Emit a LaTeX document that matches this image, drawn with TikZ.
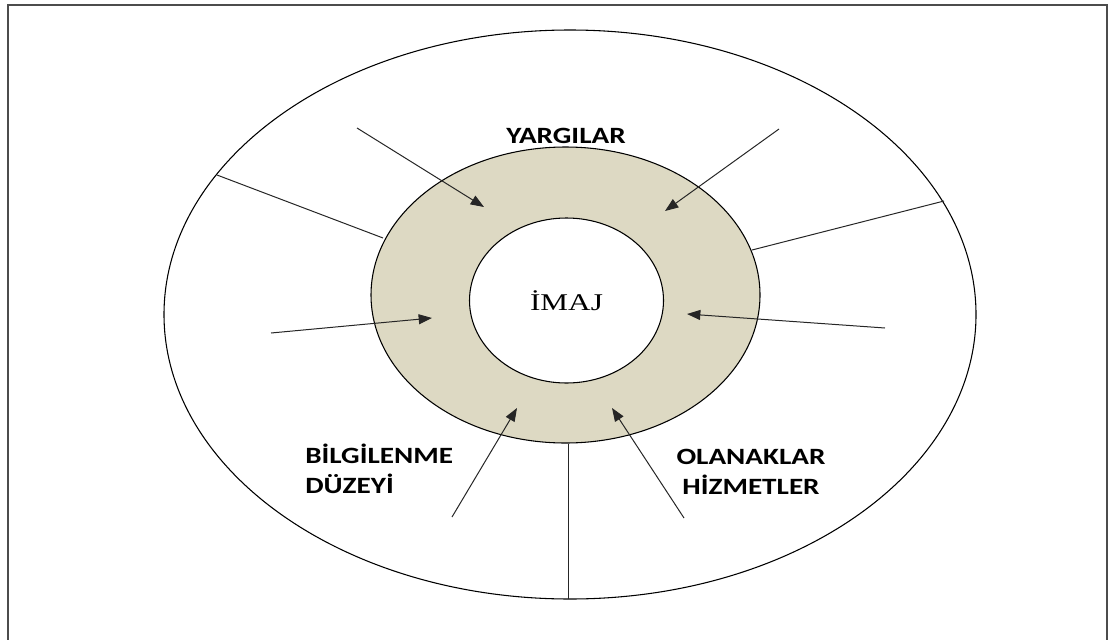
\documentclass[tikz,border=0pt]{standalone}
\usepackage{fontspec}
\usepackage{graphicx}
\setmainfont{Liberation Serif}
\newfontfamily\lblfont{Carlito}
\usetikzlibrary{arrows.meta,shapes.geometric}
\definecolor{ringfill}{HTML}{DDD9C3}
\newcommand\hstretch[1]{\scalebox{1.25}[1]{#1}}
\begin{document}
\begin{tikzpicture}[x=0.75pt,y=-0.75pt,
  oval/.style={draw=black, line width=0.8pt, ellipse, inner sep=0pt},
  divider/.style={draw=black!85, line width=0.75pt},
  inarrow/.style={draw=black!85, line width=0.75pt, -{Triangle[length=10pt,width=7.5pt]}},
  lbl/.style={font={\lblfont\bfseries\fontsize{17.5}{22.5}\selectfont}, inner sep=0pt},
  frameline/.style={draw=black!70, line width=1.5pt}]
\useasboundingbox (0,0) rectangle (1109,639);
% frame
\coordinate (fbl) at (8,641);
\coordinate (ftl) at (8,5);
\coordinate (ftr) at (1107,5);
\coordinate (fbr) at (1107,641);
\draw[frameline] (fbl) -- (ftl) -- (ftr) -- (fbr);
% outer ellipse
\node[oval, minimum width=609pt, minimum height=426.75pt] (outer) at (570,314.5) {};
% dividers
\coordinate (dula) at (217,175);
\coordinate (dulb) at (383,238);
\coordinate (dura) at (944,201);
\coordinate (durb) at (752,250);
\coordinate (dba) at (568.5,444);
\coordinate (dbb) at (568.5,599);
\draw[divider] (dula) -- (dulb);
\draw[divider] (dura) -- (durb);
\draw[divider] (dba) -- (dbb);
% ring and core
\node[oval, fill=ringfill, minimum width=291.75pt, minimum height=222pt] (ring) at (565.5,295) {};
\node[oval, fill=white, minimum width=145.5pt, minimum height=123.75pt,
      font=\fontsize{18}{20}\selectfont] (inner) at (566.5,300.5) {\scalebox{1.3}[1]{İMAJ}};
% arrows
\coordinate (a1s) at (357,128); \coordinate (a1t) at (484,207);
\coordinate (a2s) at (779,129); \coordinate (a2t) at (665,211);
\coordinate (a3s) at (271,333); \coordinate (a3t) at (432,318);
\coordinate (a4s) at (885,328); \coordinate (a4t) at (687,314);
\coordinate (a5s) at (452,517); \coordinate (a5t) at (517,408);
\coordinate (a6s) at (684,518); \coordinate (a6t) at (612,408);
\draw[inarrow] (a1s) -- (a1t);
\draw[inarrow] (a2s) -- (a2t);
\draw[inarrow] (a3s) -- (a3t);
\draw[inarrow] (a4s) -- (a4t);
\draw[inarrow] (a5s) -- (a5t);
\draw[inarrow] (a6s) -- (a6t);
% labels
\node[lbl, anchor=base] (yarg) at (566,143) {\hstretch{YARGILAR}};
\node[lbl, anchor=base west] (bilg) at (305,463)
  {\hstretch{\begin{tabular}[t]{@{}l@{}}BİLGİLENME\\DÜZEYİ\end{tabular}}};
\node[lbl, anchor=base] (olan) at (751,464)
  {\hstretch{\begin{tabular}[t]{@{}c@{}}OLANAKLAR\\HİZMETLER\end{tabular}}};
\end{tikzpicture}
\end{document}
